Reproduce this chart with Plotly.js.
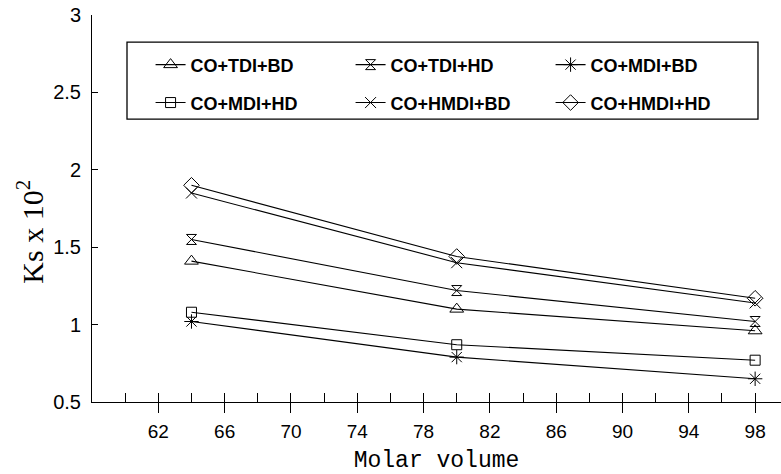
<!DOCTYPE html>
<html>
<head>
<meta charset="utf-8">
<script src="https://cdn.plot.ly/plotly-3.0.1.min.js"></script>
<style>
  html, body { margin: 0; padding: 0; background: #ffffff; }
  #chart { width: 781px; height: 474px; }
</style>
</head>
<body>
<div id="chart"></div>
<script>
// Ks (x 10^2) against molar volume of the castor-oil polyurethane systems
const molarVolume = [64, 80, 98];

const coTdiBd   = [1.41, 1.10, 0.96];
const coTdiHd   = [1.55, 1.22, 1.02];
const coMdiBd   = [1.02, 0.79, 0.65];
const coMdiHd   = [1.08, 0.87, 0.77];
const coHmdiBd  = [1.85, 1.40, 1.14];
const coHmdiHd  = [1.90, 1.44, 1.17];

const seriesNames = ['CO+TDI+BD', 'CO+TDI+HD', 'CO+MDI+BD', 'CO+MDI+HD', 'CO+HMDI+BD', 'CO+HMDI+HD'];

const xTickVals = [62, 66, 70, 74, 78, 82, 86, 90, 94, 98];
const xInnerTickVals = [60, 62, 64, 66, 68, 70, 72, 74, 76, 78, 80, 82, 84, 86, 88, 90, 92, 94, 96, 98];
const yTickVals = [0.5, 1, 1.5, 2, 2.5, 3];
const yTickText = ['0.5', '1', '1.5', '2', '2.5', '3'];

const X_RANGE = [58, 99.56];
const FONT = 'Liberation Sans, Arial, sans-serif';

function series(name, ys, symbol, size, legend, xaxis) {
  return {
    type: 'scatter',
    mode: 'lines+markers',
    name: name,
    x: molarVolume,
    y: ys,
    xaxis: xaxis,
    yaxis: 'y',
    legend: legend,
    line: { color: '#000000', width: 1.1 },
    marker: { symbol: symbol, size: size, color: '#000000', line: { color: '#000000', width: 1 } }
  };
}

// both x axes share one fixed range: x carries the labels and the outer tick marks,
// x2 adds the inner tick marks every 2 units
const traces = [
  series(seriesNames[0], coTdiBd,  'triangle-up-open', 12, 'legend',  'x'),
  series(seriesNames[1], coTdiHd,  'hourglass-open',   10, 'legend',  'x'),
  series(seriesNames[2], coMdiBd,  'asterisk-open',    12, 'legend',  'x'),
  series(seriesNames[3], coMdiHd,  'square-open',      10, 'legend2', 'x2'),
  series(seriesNames[4], coHmdiBd, 'x-thin-open',      11, 'legend2', 'x2'),
  series(seriesNames[5], coHmdiHd, 'diamond-open',     12, 'legend2', 'x2')
];

const legendStyle = (yPos) => ({
  orientation: 'h',
  x: 0.085, xanchor: 'left',
  y: yPos, yanchor: 'middle',
  bgcolor: 'rgba(0,0,0,0)',
  borderwidth: 0,
  entrywidth: 155,
  entrywidthmode: 'pixels',
  traceorder: 'normal',
  font: { family: FONT, size: 18, weight: 'bold', color: '#000000' }
});

const layout = {
  width: 781,
  height: 474,
  margin: { l: 92, r: 0, t: 15, b: 72 },
  paper_bgcolor: '#ffffff',
  plot_bgcolor: '#ffffff',
  showlegend: true,
  legend: legendStyle(0.871),
  legend2: legendStyle(0.773),
  xaxis: {
    range: X_RANGE,
    showgrid: false,
    zeroline: false,
    showline: true,
    linecolor: '#000000',
    linewidth: 1,
    ticks: 'outside',
    tickmode: 'array',
    tickvals: xTickVals,
    ticktext: xTickVals.map(String),
    ticklen: 10,
    tickwidth: 1,
    tickcolor: '#000000',
    ticklabelstandoff: 2,
    tickfont: { family: FONT, size: 19, color: '#000000' },
    title: {
      text: 'Molar volume',
      font: { family: 'Liberation Mono, Courier New, monospace', size: 23, color: '#000000' },
      standoff: 10
    }
  },
  xaxis2: {
    overlaying: 'x',
    anchor: 'y',
    side: 'bottom',
    range: X_RANGE,
    showgrid: false,
    zeroline: false,
    showline: false,
    ticks: 'inside',
    tickmode: 'array',
    tickvals: xInnerTickVals,
    ticklen: 9,
    tickwidth: 1,
    tickcolor: '#000000',
    showticklabels: false
  },
  yaxis: {
    range: [0.5, 3],
    showgrid: false,
    zeroline: false,
    showline: true,
    linecolor: '#000000',
    linewidth: 1,
    ticks: 'inside',
    tickmode: 'array',
    tickvals: yTickVals,
    ticktext: yTickText,
    ticklen: 6,
    tickwidth: 1,
    tickcolor: '#000000',
    ticklabelstandoff: 6,
    tickfont: { family: FONT, size: 20, color: '#000000' }
  },
  shapes: [
    {
      type: 'rect', xref: 'paper', yref: 'paper',
      x0: 0.0508, x1: 0.9666, y0: 0.731, y1: 0.930,
      line: { color: '#000000', width: 1.3 },
      fillcolor: 'rgba(0,0,0,0)'
    }
  ],
  annotations: [
    {
      text: 'Ks x 10<sup>2</sup>',
      xref: 'paper', yref: 'paper',
      x: -0.09, y: 0.44,
      xanchor: 'center', yanchor: 'middle',
      textangle: -90,
      showarrow: false,
      font: { family: 'Liberation Serif, Times New Roman, serif', size: 30, color: '#000000' }
    }
  ]
};

Plotly.newPlot('chart', traces, layout, { displayModeBar: false, staticPlot: true });
</script>
</body>
</html>
